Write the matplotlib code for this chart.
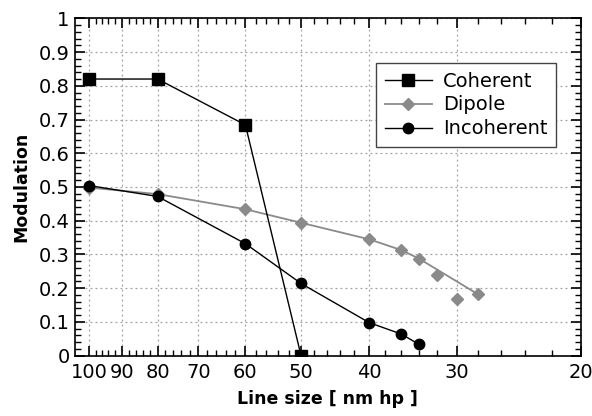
import matplotlib
matplotlib.use("Agg")
import matplotlib.pyplot as plt
from matplotlib.ticker import FixedLocator, NullFormatter, MultipleLocator
from matplotlib.lines import Line2D

# Data
coherent_x = [100, 80, 60, 50]
coherent_y = [0.820, 0.820, 0.684, 0.0]

dipole_x = [100, 80, 60, 50, 40, 36, 34, 32, 30, 28]
dipole_y = [0.498, 0.479, 0.434, 0.394, 0.345, 0.313, 0.288, 0.238, 0.168, 0.182]
dipole_fit_x = [100, 80, 60, 50, 40, 36, 34, 28]
dipole_fit_y = [0.498, 0.479, 0.434, 0.394, 0.345, 0.313, 0.288, 0.182]

incoherent_x = [100, 80, 60, 50, 40, 36, 34]
incoherent_y = [0.504, 0.472, 0.332, 0.214, 0.098, 0.064, 0.034]

x_major = [100, 90, 80, 70, 60, 50, 40, 30, 20]
x_minor = [v for v in range(22, 100, 2) if v not in x_major]
y_major = [i / 10 for i in range(11)]
y_labels = ["0"] + [f"{v:.1f}" for v in y_major[1:-1]] + ["1"]

gray = "#8a8a8a"

fig = plt.figure(figsize=(5.92, 4.16), dpi=100)
ax = fig.add_axes([0.126, 0.145, 0.855, 0.811])

ax.plot(coherent_x, coherent_y, color="black", lw=1.0, marker="s", ms=8,
        mfc="black", mec="black", zorder=4)
ax.plot(dipole_fit_x, dipole_fit_y, color=gray, lw=1.3, zorder=3)
ax.plot(dipole_x, dipole_y, ls="none", marker="D", ms=6.5,
        mfc=gray, mec=gray, zorder=3)
ax.plot(incoherent_x, incoherent_y, color="black", lw=1.0, marker="o", ms=7.5,
        mfc="black", mec="black", zorder=4)

ax.set_xscale("log")
ax.set_xlim(105, 20)
ax.set_ylim(0, 1)

ax.xaxis.set_major_locator(FixedLocator(x_major))
ax.xaxis.set_minor_locator(FixedLocator(x_minor))
ax.xaxis.set_minor_formatter(NullFormatter())
ax.set_xticklabels([str(v) for v in x_major])
ax.yaxis.set_major_locator(FixedLocator(y_major))
ax.yaxis.set_minor_locator(MultipleLocator(0.02))
ax.set_yticklabels(y_labels)

ax.tick_params(which="both", direction="in", top=True, right=True, labelsize=14)
ax.tick_params(which="major", length=7, width=1.2)
ax.tick_params(which="minor", length=4, width=1.0)
ax.tick_params(axis="x", pad=5)

for s in ax.spines.values():
    s.set_linewidth(1.2)

ax.grid(True, which="major", ls=(0, (1.5, 2.5)), color="#a0a0a0", lw=0.9)
ax.set_axisbelow(True)

ax.set_xlabel("Line size [ nm hp ]", fontsize=12.5, fontweight="bold", labelpad=6)
ax.set_ylabel("Modulation", fontsize=12.5, fontweight="bold", labelpad=6)

handles = [
    Line2D([], [], color="black", lw=1.0, marker="s", ms=8),
    Line2D([], [], color=gray, lw=1.3, marker="D", ms=6.5, mfc=gray, mec=gray),
    Line2D([], [], color="black", lw=1.0, marker="o", ms=7.5),
]
leg = ax.legend(handles, ["Coherent", "Dipole", "Incoherent"],
                loc="upper right", bbox_to_anchor=(0.952, 0.868),
                borderaxespad=0, fontsize=14, fancybox=False, framealpha=1,
                edgecolor="#444444", handlelength=2.4,
                borderpad=0.45, labelspacing=0.25, handletextpad=0.6)
leg.get_frame().set_linewidth(1.0)

fig.savefig("out.png", dpi=100)
